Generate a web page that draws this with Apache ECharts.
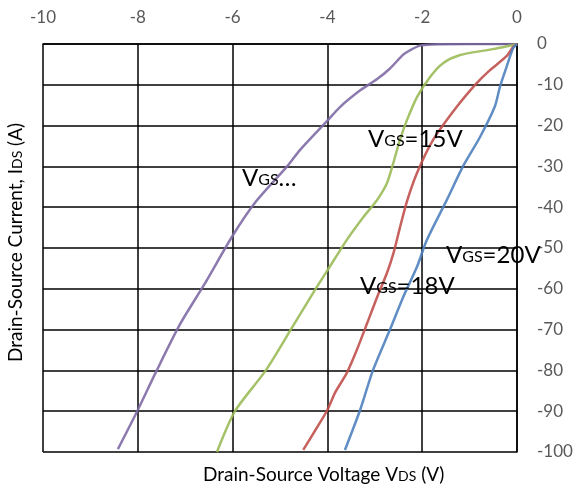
<!DOCTYPE html>
<html><head><meta charset="utf-8">
<script src="https://cdn.jsdelivr.net/npm/echarts@6/dist/echarts.min.js"></script>
<style>html,body{margin:0;padding:0;background:#fff}#c{width:579px;height:491px}</style>
</head><body><div id="c"></div>
<script>
const xTicks = [-10, -8, -6, -4, -2, 0];
const yTicks = [0, -10, -20, -30, -40, -50, -60, -70, -80, -90, -100];
const seriesNames = ['VGS=?', 'VGS=15V', 'VGS=18V', 'VGS=20V'];
const purpleV = [0, -1.0, -1.8, -2.05, -2.25, -2.4, -2.68, -2.95, -3.3, -3.73, -4.0, -4.58, -4.85, -5.5, -6.0, -6.6, -7.1, -7.6, -8.0, -8.42];
const purpleI = [0, 0, -0.1, -0.4, -1.5, -2.6, -6, -8.6, -11.3, -15.4, -18.8, -26, -30, -38.5, -47, -59, -68.5, -80, -89.7, -99.3];
const greenV = [0, -0.3, -0.63, -1.2, -1.56, -1.83, -2.11, -2.32, -2.47, -2.61, -2.74, -2.95, -3.24, -3.59, -4.0, -4.3, -4.75, -5.3, -5.95, -6.33];
const greenI = [0, -0.8, -1.5, -2.7, -4.7, -8, -13, -18.6, -23.5, -29.2, -34, -38.2, -42.4, -48, -55.5, -61, -69.6, -80, -90, -100];
const redV = [0, -0.08, -0.22, -0.57, -0.85, -1.27, -1.77, -2.11, -2.32, -2.47, -2.6, -2.74, -2.95, -3.16, -3.38, -3.59, -3.84, -4.0, -4.22, -4.51];
const redI = [0, -0.7, -3, -6.4, -9.6, -15.4, -23.5, -31.6, -38.5, -45, -51, -56, -62, -68.4, -75, -80.6, -85.5, -89.7, -94, -99.5];
const blueV = [0, -0.08, -0.22, -0.36, -0.47, -0.78, -1.14, -1.48, -1.9, -2.11, -2.4, -2.68, -3.04, -3.31, -3.63];
const blueI = [0, -1, -5.6, -10.5, -15.4, -22.8, -30, -38.2, -48, -54.6, -62, -70, -80, -89.7, -99.5];

const zip = (a, b) => a.map((v, i) => [v, b[i]]);
const colors = ['#7f6ca6', '#9bbb59', '#c0504d', '#4f81bd'];
const font = 'Lato, "Open Sans", sans-serif';
const chart = echarts.init(document.getElementById('c'));
const mkSeries = (name, v, i, c) => ({
  type: 'line', name, data: zip(v, i), showSymbol: false, smooth: 0.25,
  lineStyle: { color: c, width: 2.5, opacity: 0.9 }, z: 5
});
const rich = {
  b: { fontSize: 24, color: '#404040', fontFamily: font, verticalAlign: 'bottom' },
  s: { fontSize: 16, color: '#404040', fontFamily: font, verticalAlign: 'bottom', padding: [0, 0, 2, 0] }
};
const richT = {
  b: { fontSize: 19, color: '#595959', fontFamily: font, verticalAlign: 'bottom' },
  s: { fontSize: 14, color: '#595959', fontFamily: font, verticalAlign: 'bottom', padding: [0, 0, 1, 0] }
};
chart.setOption({
  animation: false,
  grid: { left: 43, right: 62, top: 44, bottom: 39, show: false },
  xAxis: {
    type: 'value', position: 'top', min: -10, max: 0, interval: 2,
    axisLine: { show: true, lineStyle: { color: '#000', width: 1.5 } },
    axisTick: { show: false },
    axisLabel: { color: '#595959', fontSize: 17, fontFamily: font, margin: 18 },
    splitLine: { show: true, showMinLine: true, showMaxLine: true, lineStyle: { color: '#000', width: 1.5 } }
  },
  yAxis: {
    type: 'value', position: 'right', min: -100, max: 0, interval: 10,
    axisLine: { show: true, lineStyle: { color: '#000', width: 1.5 } },
    axisTick: { show: false },
    axisLabel: { color: '#595959', fontSize: 17, fontFamily: font, margin: 20 },
    splitLine: { show: true, showMinLine: true, showMaxLine: true, lineStyle: { color: '#000', width: 1.5 } }
  },
  series: [
    mkSeries(seriesNames[0], purpleV, purpleI, colors[0]),
    mkSeries(seriesNames[1], greenV, greenI, colors[1]),
    mkSeries(seriesNames[2], redV, redI, colors[2]),
    mkSeries(seriesNames[3], blueV, blueI, colors[3])
  ],
  graphic: [
    { type: 'text', left: 368, top: 127, z: 10, style: { text: '{b|V}{s|GS}{b|=15V}', rich } },
    { type: 'text', left: 242, top: 166, z: 10, style: { text: '{b|V}{s|GS}{b|…}', rich } },
    { type: 'text', left: 446, top: 243, z: 10, style: { text: '{b|V}{s|GS}{b|=20V}', rich } },
    { type: 'text', left: 360, top: 274, z: 10, style: { text: '{b|V}{s|GS}{b|=18V}', rich } },
    { type: 'text', left: 203, top: 465, style: { text: '{b|Drain-Source Voltage V}{s|DS}{b| (V)}', rich: richT } },
    { type: 'text', x: 6, y: 362, rotation: Math.PI / 2, style: { text: '{b|Drain-Source Current, I}{s|DS}{b| (A)}', rich: richT } }
  ]
});
</script></body></html>
